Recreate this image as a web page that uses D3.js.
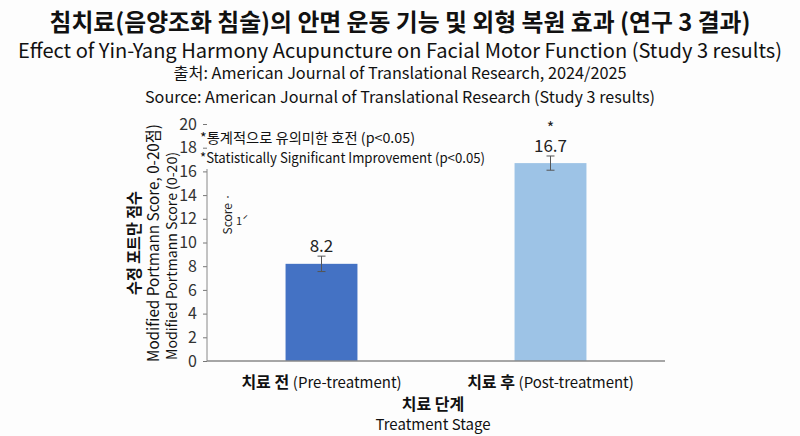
<!DOCTYPE html>
<html>
<head>
<meta charset="utf-8">
<script src="https://cdn.jsdelivr.net/npm/d3@7"></script>
<style>
  body { margin: 0; background: #fdfdfd; }
  svg { font-family: "Noto Sans CJK KR", "Noto Sans", sans-serif; }
</style>
</head>
<body>
<svg id="chart"></svg>
<script>
const svg_w = 800;
const svg_h = 436;

// datos del gráfico
const stages = ["치료 전", "치료 후"];
const stagesEn = ["(Pre-treatment)", "(Post-treatment)"];
const scores = [8.2, 16.7];
const errors = [0.65, 0.6];
const significant = [false, true];
const barColors = ["#4472C4", "#9DC3E6"];
const yTicks = [0, 2, 4, 6, 8, 10, 12, 14, 16, 18, 20];

const titles = [
  {text: "침치료(음양조화 침술)의 안면 운동 기능 및 외형 복원 효과 (연구 3 결과)", y: 20, size: 24, weight: "bold", len: 701},
  {text: "Effect of Yin-Yang Harmony Acupuncture on Facial Motor Function (Study 3 results)", y: 49, size: 20, weight: "normal", len: 764},
  {text: "출처: American Journal of Translational Research, 2024/2025", y: 72, size: 16, weight: "normal", len: 453},
  {text: "Source: American Journal of Translational Research (Study 3 results)", y: 96, size: 16, weight: "normal", len: 510}
];

const margin = {l: 207, r: 135, t: 124, b: 75};

let svg = d3.select("#chart")
  .attr("width", svg_w)
  .attr("height", svg_h);

// títulos
svg.append("g").selectAll("text")
  .data(titles)
  .enter()
  .append("text")
  .attr("x", 400)
  .attr("y", d => d.y)
  .attr("text-anchor", "middle")
  .attr("dominant-baseline", "central")
  .attr("font-size", d => d.size)
  .attr("font-weight", d => d.weight)
  .attr("textLength", d => d.len)
  .attr("lengthAdjust", "spacingAndGlyphs")
  .attr("fill", "#111")
  .text(d => d.text);

let y_scale = d3.scaleLinear()
  .domain([0, 20])
  .range([svg_h - margin.b, margin.t]);

let x_scale = d3.scaleBand()
  .domain(stages)
  .range([margin.l, svg_w - margin.r])
  .paddingInner(0.686)
  .paddingOuter(0.343);

// eje y
let yAxis = svg.append("g")
  .attr("transform", `translate(${margin.l},0)`)
  .call(d3.axisLeft(y_scale).tickValues(yTicks).tickSize(4).tickPadding(6));
yAxis.select(".domain").remove();
yAxis.selectAll(".tick line").attr("stroke", "#777");
yAxis.selectAll(".tick text")
  .attr("font-size", 16)
  .attr("fill", "#333")
  .attr("font-family", "'Noto Sans CJK KR', sans-serif");

svg.append("line")
  .attr("x1", margin.l).attr("x2", margin.l)
  .attr("y1", y_scale(0)).attr("y2", y_scale(16.2))
  .attr("stroke", "#888")
  .attr("stroke-width", 1);

// barras
svg.append("g").selectAll("rect")
  .data(stages)
  .enter()
  .append("rect")
  .attr("x", d => x_scale(d))
  .attr("y", (d, i) => y_scale(scores[i]))
  .attr("width", x_scale.bandwidth())
  .attr("height", (d, i) => y_scale(0) - y_scale(scores[i]))
  .attr("fill", (d, i) => barColors[i]);

// barras de error
let err = svg.append("g").selectAll("g")
  .data(stages)
  .enter()
  .append("g")
  .attr("stroke", "#555")
  .attr("stroke-width", 1);
err.append("line")
  .attr("x1", d => x_scale(d) + x_scale.bandwidth() / 2)
  .attr("x2", d => x_scale(d) + x_scale.bandwidth() / 2)
  .attr("y1", (d, i) => y_scale(scores[i] + errors[i]))
  .attr("y2", (d, i) => y_scale(scores[i] - errors[i]));
[1, -1].forEach(s => {
  err.append("line")
    .attr("x1", d => x_scale(d) + x_scale.bandwidth() / 2 - 4)
    .attr("x2", d => x_scale(d) + x_scale.bandwidth() / 2 + 4)
    .attr("y1", (d, i) => y_scale(scores[i] + s * errors[i]))
    .attr("y2", (d, i) => y_scale(scores[i] + s * errors[i]));
});

// etiquetas de valor
svg.append("g").selectAll("text")
  .data(stages)
  .enter()
  .append("text")
  .attr("x", d => x_scale(d) + x_scale.bandwidth() / 2)
  .attr("y", (d, i) => y_scale(scores[i]) - 19)
  .attr("text-anchor", "middle")
  .attr("dominant-baseline", "central")
  .attr("font-size", 17)
  .attr("fill", "#222")
  .text((d, i) => scores[i]);

svg.append("g").selectAll("text")
  .data(stages.filter((d, i) => significant[i]))
  .enter()
  .append("text")
  .attr("x", d => x_scale(d) + x_scale.bandwidth() / 2)
  .attr("y", d => y_scale(scores[stages.indexOf(d)]) - 36)
  .attr("text-anchor", "middle")
  .attr("dominant-baseline", "central")
  .attr("font-size", 16)
  .attr("fill", "#222")
  .text("*");

// eje x
svg.append("line")
  .attr("x1", margin.l).attr("x2", svg_w - margin.r)
  .attr("y1", y_scale(0)).attr("y2", y_scale(0))
  .attr("stroke", "#888")
  .attr("stroke-width", 1.5);

let xLabels = svg.append("g").selectAll("text")
  .data(stages)
  .enter()
  .append("text")
  .attr("x", d => x_scale(d) + x_scale.bandwidth() / 2)
  .attr("y", 381)
  .attr("text-anchor", "middle")
  .attr("dominant-baseline", "central")
  .attr("fill", "#111");
xLabels.append("tspan")
  .attr("font-size", 16)
  .attr("font-weight", "bold")
  .text(d => d + " ");
xLabels.append("tspan")
  .attr("font-size", 15)
  .text((d, i) => stagesEn[i]);

svg.append("text")
  .attr("x", 433).attr("y", 403)
  .attr("text-anchor", "middle")
  .attr("dominant-baseline", "central")
  .attr("font-size", 16)
  .attr("font-weight", "bold")
  .attr("fill", "#111")
  .text("치료 단계");
svg.append("text")
  .attr("x", 433).attr("y", 423)
  .attr("text-anchor", "middle")
  .attr("dominant-baseline", "central")
  .attr("font-size", 15)
  .attr("fill", "#111")
  .text("Treatment Stage");

// títulos del eje y (rotados)
const yTitles = [
  {text: "수정 포트만 점수", x: 133, y: 243, size: 16, weight: "bold", len: 104},
  {text: "Modified Portmann Score, 0-20점)", x: 152, y: 243, size: 16, weight: "normal", len: 238},
  {text: "Modified Portmann Score (0-20)", x: 171, y: 256, size: 14, weight: "normal", len: 208}
];
svg.append("g").selectAll("text")
  .data(yTitles)
  .enter()
  .append("text")
  .attr("transform", d => `translate(${d.x},${d.y}) rotate(-90)`)
  .attr("text-anchor", "middle")
  .attr("dominant-baseline", "central")
  .attr("font-size", d => d.size)
  .attr("font-weight", d => d.weight)
  .attr("textLength", d => d.len)
  .attr("lengthAdjust", "spacingAndGlyphs")
  .attr("fill", "#111")
  .text(d => d.text);

// restos de texto dentro del gráfico
svg.append("text")
  .attr("transform", "translate(226,214) rotate(-90)")
  .attr("text-anchor", "middle")
  .attr("dominant-baseline", "central")
  .attr("font-size", 12)
  .attr("fill", "#222")
  .text("Score ·");
svg.append("text")
  .attr("x", 236).attr("y", 220)
  .attr("dominant-baseline", "central")
  .attr("font-size", 11)
  .attr("fill", "#222")
  .text("1ˊ");

// nota de significancia
const notes = [
  {text: "*통계적으로 유의미한 호전 (p<0.05)", y: 137, len: 215},
  {text: "*Statistically Significant Improvement (p<0.05)", y: 157, len: 285}
];
svg.append("g").selectAll("text")
  .data(notes)
  .enter()
  .append("text")
  .attr("x", 200)
  .attr("y", d => d.y)
  .attr("dominant-baseline", "central")
  .attr("font-size", 14)
  .attr("textLength", d => d.len)
  .attr("lengthAdjust", "spacingAndGlyphs")
  .attr("fill", "#111")
  .text(d => d.text);
</script>
</body>
</html>
